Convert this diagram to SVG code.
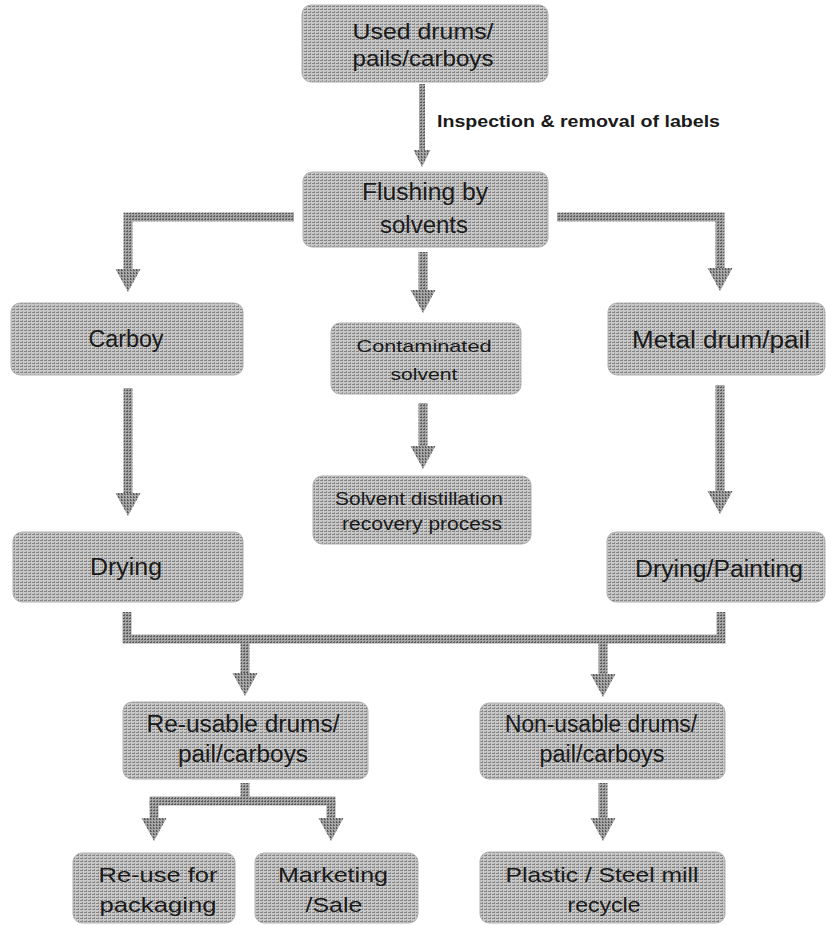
<svg xmlns="http://www.w3.org/2000/svg" width="826" height="925" viewBox="0 0 826 925">
  <defs>
    <pattern id="ht" width="4" height="3" patternUnits="userSpaceOnUse">
      <rect width="4" height="3" fill="#c8c8c8"/>
      <rect x="0" y="0" width="3" height="1" fill="#858585"/>
      <rect x="2" y="2" width="1" height="1" fill="#969696"/>
    </pattern>
    <pattern id="htd" width="3" height="3" patternUnits="userSpaceOnUse">
      <rect width="3" height="3" fill="#a6a6a6"/>
      <rect x="0" y="0" width="2" height="1" fill="#5a5a5a"/>
      <rect x="1" y="2" width="1" height="1" fill="#6e6e6e"/>
    </pattern>
    <marker id="ah" markerUnits="userSpaceOnUse" viewBox="0 -13 24 26" markerWidth="24" markerHeight="26" refX="1" refY="0" orient="auto">
      <path d="M0,-12.5 L23,0 L0,12.5 Z" fill="url(#htd)"/>
    </marker>
    <marker id="ahs" markerUnits="userSpaceOnUse" viewBox="0 -9 18 18" markerWidth="18" markerHeight="18" refX="1" refY="0" orient="auto">
      <path d="M0,-8.5 L17,0 L0,8.5 Z" fill="url(#htd)"/>
    </marker>
  </defs>
  <style>
    .box { fill: url(#ht); stroke: #b0b0b0; stroke-width: 1; }
    .t { font-family: "Liberation Sans", Arial, sans-serif; font-size: 23px; fill: #1a1a1a; text-anchor: middle; }
    .ts { font-size: 18px; }
    .tb { font-size: 21px; }
    .lbl { font-family: "Liberation Sans", Arial, sans-serif; font-size: 17px; font-weight: bold; fill: #1a1a1a; }
    .c { fill: none; stroke: url(#htd); stroke-width: 9; stroke-linejoin: miter; stroke-linecap: butt; }
    .ca { marker-end: url(#ah); }
  </style>
  <rect width="826" height="925" fill="#ffffff"/>

  <g id="connectors">
    <path class="c" d="M422,84 V151" style="stroke-width:6; marker-end:url(#ahs)"/>
    <path class="c ca" d="M294,217 H128 V270"/>
    <path class="c ca" d="M557,217 H720 V269"/>
    <path class="c ca" d="M423,252 V291"/>
    <path class="c ca" d="M423,403 V447"/>
    <path class="c ca" d="M128,388 V494"/>
    <path class="c ca" d="M720,385 V492"/>
    <path class="c" d="M127,612 V639 H721 V612"/>
    <path class="c ca" d="M245,639 V674"/>
    <path class="c ca" d="M603,639 V675"/>
    <path class="c" d="M245,783 V801"/>
    <path class="c" d="M149.5,801 H335.5"/>
    <path class="c ca" d="M154,801 V819"/>
    <path class="c ca" d="M331,801 V819"/>
    <path class="c ca" d="M603,783 V819"/>
    <text class="lbl" x="437" y="127" textLength="283" lengthAdjust="spacingAndGlyphs">Inspection &amp; removal of labels</text>
  </g>

  <g id="used">
    <rect class="box" x="302" y="5" width="246" height="77" rx="9"/>
    <text class="t" x="423" y="39" textLength="141" lengthAdjust="spacingAndGlyphs" style="font-size:22px">Used drums/</text>
    <text class="t" x="423" y="66" textLength="141" lengthAdjust="spacingAndGlyphs" style="font-size:22px">pails/carboys</text>
  </g>

  <g id="flushing">
    <rect class="box" x="303" y="172" width="245" height="75" rx="9"/>
    <text class="t" x="425" y="200" textLength="126" lengthAdjust="spacingAndGlyphs">Flushing by</text>
    <text class="t" x="424" y="233" textLength="88" lengthAdjust="spacingAndGlyphs">solvents</text>
  </g>

  <g id="carboy">
    <rect class="box" x="11" y="303" width="232" height="72" rx="9"/>
    <text class="t" x="126" y="347" textLength="75" lengthAdjust="spacingAndGlyphs">Carboy</text>
  </g>

  <g id="contaminated">
    <rect class="box" x="331" y="323" width="190" height="71" rx="9"/>
    <text class="t ts" x="424" y="352" textLength="135" lengthAdjust="spacingAndGlyphs" style="font-size:17px">Contaminated</text>
    <text class="t ts" x="424" y="380" textLength="67" lengthAdjust="spacingAndGlyphs" style="font-size:17px">solvent</text>
  </g>

  <g id="metal">
    <rect class="box" x="608" y="303" width="217" height="72" rx="9"/>
    <text class="t" x="721" y="348" textLength="178" lengthAdjust="spacingAndGlyphs">Metal drum/pail</text>
  </g>

  <g id="distillation">
    <rect class="box" x="313" y="476" width="218" height="68" rx="9"/>
    <text class="t ts" x="419" y="505" textLength="168" lengthAdjust="spacingAndGlyphs">Solvent distillation</text>
    <text class="t ts" x="422" y="530" textLength="160" lengthAdjust="spacingAndGlyphs">recovery process</text>
  </g>

  <g id="drying">
    <rect class="box" x="13" y="532" width="230" height="70" rx="9"/>
    <text class="t" x="126" y="575" textLength="72" lengthAdjust="spacingAndGlyphs">Drying</text>
  </g>

  <g id="drying-painting">
    <rect class="box" x="607" y="532" width="218" height="70" rx="9"/>
    <text class="t" x="719" y="577" textLength="168" lengthAdjust="spacingAndGlyphs">Drying/Painting</text>
  </g>

  <g id="reusable">
    <rect class="box" x="123" y="702" width="245" height="77" rx="9"/>
    <text class="t" x="243" y="732" textLength="193" lengthAdjust="spacingAndGlyphs">Re-usable drums/</text>
    <text class="t" x="243" y="762" textLength="130" lengthAdjust="spacingAndGlyphs">pail/carboys</text>
  </g>

  <g id="nonusable">
    <rect class="box" x="480" y="703" width="245" height="76" rx="9"/>
    <text class="t" x="601" y="732" textLength="192" lengthAdjust="spacingAndGlyphs">Non-usable drums/</text>
    <text class="t" x="602" y="762" textLength="125" lengthAdjust="spacingAndGlyphs">pail/carboys</text>
  </g>

  <g id="reuse">
    <rect class="box" x="73" y="853" width="162" height="70" rx="9"/>
    <text class="t tb" x="158" y="882" textLength="119" lengthAdjust="spacingAndGlyphs">Re-use for</text>
    <text class="t tb" x="158" y="912" textLength="117" lengthAdjust="spacingAndGlyphs">packaging</text>
  </g>

  <g id="marketing">
    <rect class="box" x="255" y="853" width="163" height="70" rx="9"/>
    <text class="t tb" x="333" y="882" textLength="110" lengthAdjust="spacingAndGlyphs">Marketing</text>
    <text class="t tb" x="334" y="912" textLength="57" lengthAdjust="spacingAndGlyphs">/Sale</text>
  </g>

  <g id="recycle">
    <rect class="box" x="480" y="852" width="245" height="71" rx="9"/>
    <text class="t tb" x="602" y="882" textLength="193" lengthAdjust="spacingAndGlyphs">Plastic / Steel mill</text>
    <text class="t tb" x="604" y="912" textLength="73" lengthAdjust="spacingAndGlyphs">recycle</text>
  </g>
</svg>
